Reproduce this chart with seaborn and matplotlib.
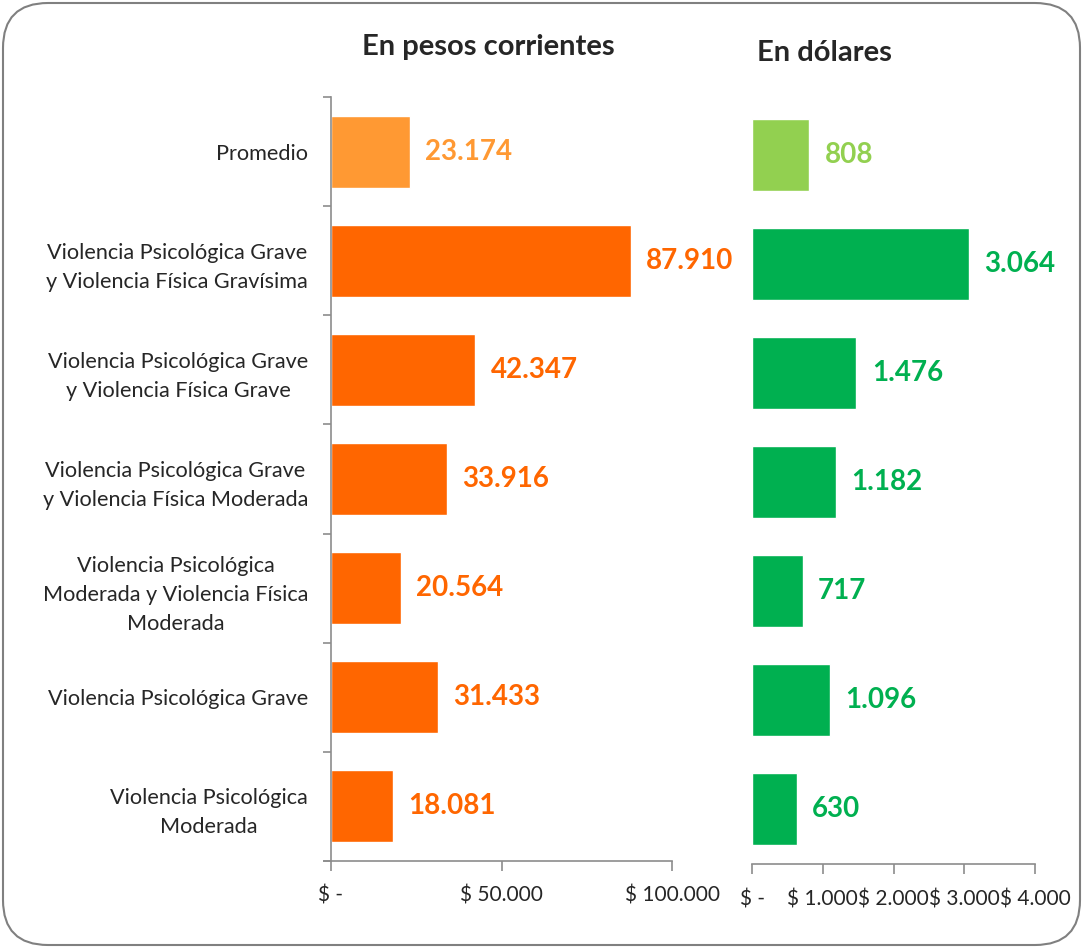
import numpy as np
import matplotlib
matplotlib.use('Agg')
import matplotlib.pyplot as plt
import seaborn as sns
import pandas as pd
from matplotlib.patches import FancyBboxPatch
from matplotlib.ticker import FixedLocator

# Data
categories = [
    'Promedio',
    'Violencia Psicológica Grave\ny Violencia Física Gravísima',
    'Violencia Psicológica Grave\ny Violencia Física Grave',
    'Violencia Psicológica Grave\ny Violencia Física Moderada',
    'Violencia Psicológica\nModerada y Violencia Física\nModerada',
    'Violencia Psicológica Grave',
    'Violencia Psicológica\nModerada',
]
pesos = [23174, 87910, 42347, 33916, 20564, 31433, 18081]
dolares = [808, 3064, 1476, 1182, 717, 1096, 630]

pesos_ticks = [0, 50000, 100000]
dolares_ticks = [0, 1000, 2000, 3000, 4000]

orange = ['#FF9933'] + ['#FF6600'] * 6
green = ['#92D050'] + ['#00B050'] * 6

sns.set_style('white')
plt.rcParams['font.family'] = ['Lato', 'DejaVu Sans']


def fmt(v):
    return '{:,}'.format(int(round(v))).replace(',', '.')


def money(v):
    return '$ -' if v == 0 else '$ ' + fmt(v)


W, H = 1083, 948
fig = plt.figure(figsize=(W / 100, H / 100), dpi=100)

#
# Background box
#
bg = fig.add_axes([0, 0, 1, 1], zorder=-5)
bg.set_xlim(0, W)
bg.set_ylim(H, 0)
bg.axis('off')
box = FancyBboxPatch((3, 3), W - 6, H - 6,
                     boxstyle='round,pad=0,rounding_size=45',
                     facecolor='white', edgecolor='#808080', lw=1.5)
bg.add_patch(box)
grad = np.linspace(0.955, 1.0, 100).reshape(-1, 1)
im = bg.imshow(grad, extent=[3, W - 3, 190, 3], cmap='gray', vmin=0, vmax=1,
               aspect='auto', zorder=0.5)
im.set_clip_path(box)

axis_grey = '#8c8c8c'


def style_axis(ax, ticks, xmax, colors):
    ax.set_facecolor('none')
    ax.set_xlim(0, xmax)
    ax.set_xticks(ticks)
    ax.set_xticklabels([money(t) for t in ticks], fontsize=15)
    ax.set_xlabel('')
    ax.set_ylabel('')
    ax.tick_params(axis='x', bottom=True, direction='out', length=7,
                   width=1.2, color=axis_grey, pad=11)
    ax.spines['top'].set_visible(False)
    ax.spines['right'].set_visible(False)
    ax.spines['bottom'].set_color(axis_grey)
    ax.spines['bottom'].set_linewidth(1.2)
    for cont, c in zip(ax.containers, colors):
        ax.bar_label(cont, labels=[fmt(v) for v in cont.datavalues],
                     padding=11, fontsize=20, fontweight='bold', color=c)


#
# Left panel: pesos
#
ax1 = fig.add_axes([331 / W, 87 / H, 341 / W, 764 / H])
df1 = pd.DataFrame({'cat': categories, 'val': pesos})
sns.barplot(data=df1, x='val', y='cat', hue='cat', palette=orange,
            orient='h', width=0.66, saturation=1, legend=False, ax=ax1)
style_axis(ax1, pesos_ticks, 100000, orange)
ax1.spines['left'].set_color(axis_grey)
ax1.spines['left'].set_linewidth(1.2)
ax1.spines['bottom'].set_bounds(-2100, 100000)
ax1.yaxis.set_minor_locator(FixedLocator(np.arange(-0.5, 7, 1)))
ax1.tick_params(axis='y', which='major', length=0, pad=16.5, labelsize=15.6)
ax1.tick_params(axis='y', which='minor', direction='out', length=6,
                width=1.2, color=axis_grey, left=True)
for lbl in ax1.get_yticklabels():
    lbl.set_multialignment('center')
    lbl.set_linespacing(1.56)

#
# Right panel: dolares
#
ax2 = fig.add_axes([752 / W, 84 / H, 283 / W, 764 / H])
df2 = pd.DataFrame({'cat': categories, 'val': dolares})
sns.barplot(data=df2, x='val', y='cat', hue='cat', palette=green,
            orient='h', width=0.66, saturation=1, legend=False, ax=ax2)
style_axis(ax2, dolares_ticks, 4000, green)
ax2.spines['left'].set_visible(False)
ax2.set_yticks([])

# Titles
fig.text(488 / W, 1 - 47 / H, 'En pesos corrientes', ha='center',
         va='center', fontsize=21, fontweight='bold')
fig.text(824 / W, 1 - 53 / H, 'En dólares', ha='center',
         va='center', fontsize=21, fontweight='bold')

fig.savefig('out.png', dpi=100)
